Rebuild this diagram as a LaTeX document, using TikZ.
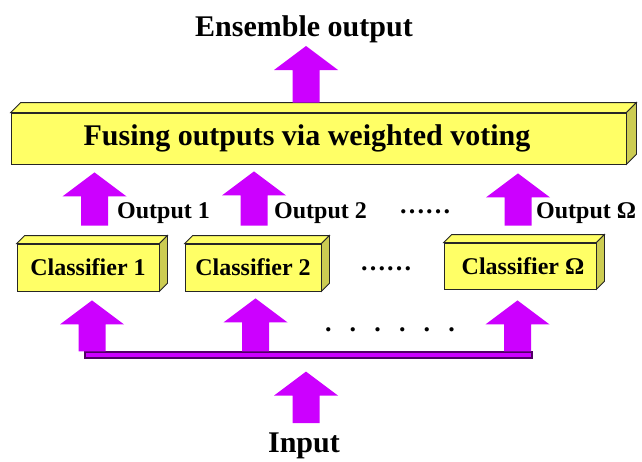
\documentclass[tikz,border=0pt]{standalone}
\usepackage{fontspec}
\setmainfont{Liberation Serif}
\usetikzlibrary{calc, positioning}

\definecolor{arrowmag}{RGB}{204,0,255}
\definecolor{boxyellow}{RGB}{255,255,102}
\definecolor{sideyellow}{RGB}{204,204,82}
\definecolor{buspurple}{RGB}{80,0,100}

\tikzset{
  fatarrow/.style={fill=arrowmag, to path={let \p1=(\tikztostart), \p2=(\tikztotarget) in
      (\x1-13.5pt,\y1) -- (\x1-13.5pt,\y2-24pt) -- (\x1-32pt,\y2-24pt) -- (\x1,\y2)
      -- (\x1+32pt,\y2-24pt) -- (\x1+13.5pt,\y2-24pt) -- (\x1+13.5pt,\y1) -- cycle}},
  yellowbox/.style={draw=black!85, line width=0.8pt, fill=boxyellow, inner sep=0pt,
      font=\fontsize{24}{28}\selectfont\bfseries},
  bigtext/.style={inner sep=0pt, anchor=base, font=\fontsize{30}{36}\selectfont\bfseries},
  outtext/.style={inner sep=0pt, anchor=base west, font=\fontsize{24}{28}\selectfont\bfseries},
  dotstext/.style={inner sep=0pt, anchor=base, font=\fontsize{26}{28}\selectfont\bfseries},
}

% top and side faces of a box node
\newcommand{\shadeside}[2]{%
  \filldraw[draw=black!85, line width=0.8pt, fill=boxyellow]
    (#1.north west) -- ++(#2pt,#2pt) -- ($(#1.north east)+(#2pt,#2pt)$) -- (#1.north east) -- cycle;
  \filldraw[draw=black!85, line width=0.8pt, fill=sideyellow]
    (#1.north east) -- ++(#2pt,#2pt) -- ($(#1.south east)+(#2pt,#2pt)$) -- (#1.south east) -- cycle;
}

\begin{document}
\begin{tikzpicture}[x=1pt,y=-1pt]
  \useasboundingbox (0,0) rectangle (642,461);

  % boxes
  \node[yellowbox, minimum width=615pt, minimum height=51pt, font=\fontsize{30}{36}\selectfont\bfseries]
    (fuse) at (318.5,138.5) {\hspace*{-23pt}Fusing outputs via weighted voting};
  \node[yellowbox, minimum width=142pt, minimum height=47pt] (c1) at (88,267.5) {Classifier 1};
  \node[yellowbox, minimum width=136pt, minimum height=47pt] (c2) at (253,267.5) {Classifier 2};
  \node[yellowbox, minimum width=152pt, minimum height=46pt] (c3) at (520,266) {\hspace*{6pt}Classifier Ω};
  \shadeside{fuse}{10}
  \shadeside{c1}{8}
  \shadeside{c2}{8}
  \shadeside{c3}{8}

  % bus line
  \node[draw=buspurple, line width=1.2pt, fill=arrowmag, minimum width=447pt, minimum height=6pt,
    inner sep=0pt] (bus) at (308.5,355) {};

  % texts
  \node[bigtext] (ens) at (304,36) {Ensemble output};
  \node[bigtext] (in) at (304,452) {Input};
  \node[outtext] (o1) at (117,218) {Output 1};
  \node[outtext] (o2) at (274,218) {Output 2};
  \node[outtext] (o3) at (536,218) {Output Ω};
  \node[dotstext] (dotsa) at (425,213) {……};
  \node[dotstext] (dotsb) at (386,270) {……};
  \node[dotstext] (dotsc) at (390,331) {\spaceskip=16pt . . . . . .};

  % arrows
  \fill[fatarrow] ($(fuse.north)+(-12.5pt,10pt)$) to ($(ens.base)+(0,-10pt)$);
  \fill[fatarrow] ($(c1.north)+(6.5pt,18pt)$) to ($(fuse.south)+(0,-8pt)$);
  \fill[fatarrow] ($(c2.north)+(1pt,18pt)$) to ($(fuse.south)+(0,-7pt)$);
  \fill[fatarrow] ($(c3.north)+(-2pt,17pt)$) to ($(fuse.south)+(0,-9pt)$);
  \fill[fatarrow] ($(bus.north -| c1.south)+(4pt,0)$) to ($(c1.south)+(0,-9pt)$);
  \fill[fatarrow] ($(bus.north -| c2.south)+(2.5pt,0)$) to ($(c2.south)+(0,-7pt)$);
  \fill[fatarrow] ($(bus.north -| c3.south)+(-2.5pt,0)$) to ($(c3.south)+(0,-11pt)$);
  \fill[fatarrow] ($(in.base)+(2pt,29pt)$) to ($(bus.south)+(0,-13pt)$);
\end{tikzpicture}
\end{document}
